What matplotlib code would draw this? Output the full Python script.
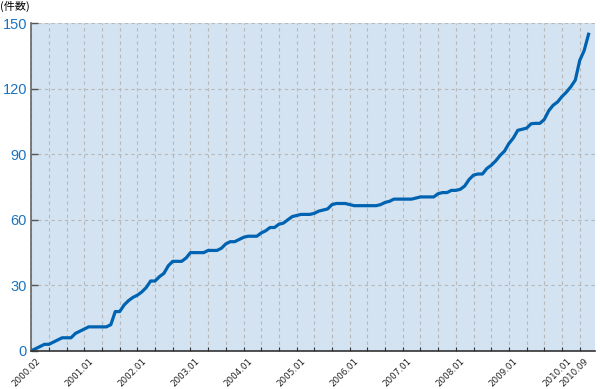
import matplotlib
matplotlib.use("Agg")
import matplotlib.pyplot as plt

# cumulative count per month, month 0 = start of the axis (2000.02)
months = list(range(127))
counts = [
    0, 1, 2, 3, 3, 4, 5, 6, 6, 6,
    8, 9, 10, 11, 11, 11, 11, 11, 12, 18,
    18, 21, 23, 24.5, 25.5, 27, 29, 32, 32, 34,
    35.5, 39, 41, 41, 41, 42.5, 45, 45, 45, 45,
    46, 46, 46, 47, 49, 50, 50, 51, 52, 52.5,
    52.5, 52.5, 54, 55, 56.5, 56.5, 58, 58.5, 60, 61.5,
    62, 62.5, 62.5, 62.5, 63, 64, 64.5, 65, 67, 67.5,
    67.5, 67.5, 67, 66.5, 66.5, 66.5, 66.5, 66.5, 66.5, 67,
    68, 68.5, 69.5, 69.5, 69.5, 69.5, 69.5, 70, 70.5, 70.5,
    70.5, 70.5, 72, 72.5, 72.5, 73.5, 73.5, 74, 75.5, 78.5,
    80.5, 81, 81, 83.5, 85, 87, 89.5, 91.5, 95, 97.5,
    101, 101.5, 102, 104, 104.2, 104.2, 106, 110, 112.5, 114,
    116.5, 118.5, 121, 124, 133, 137.5, 145,
]

tick_pos = list(range(0, 125, 4))
label_pos = [0, 12, 24, 36, 48, 60, 72, 84, 96, 108, 120, 124]
label_txt = ['2000.02', '2001.01', '2002.01', '2003.01', '2004.01', '2005.01',
             '2006.01', '2007.01', '2008.01', '2009.01', '2010.01', '2010.09']
y_ticks = [0, 30, 60, 90, 120, 150]

fig = plt.figure(figsize=(6, 3.89), dpi=100)
ax = fig.add_axes([0.052, 0.098, 0.940, 0.842])
ax.set_facecolor('#d3e3f1')

ax.plot(months, counts, color='#0063b1', linewidth=2.3, solid_joinstyle='round')

ax.set_xlim(0, 127.5)
ax.set_ylim(0, 150)

ax.set_xticks(tick_pos)
ax.set_xticklabels([])
for p, t in zip(label_pos, label_txt):
    ax.text(p + 1.0, -2.5, t, rotation=45, ha='right', va='top', fontsize=6.3,
            family=['DejaVu Sans Condensed', 'DejaVu Sans'], rotation_mode='anchor',
            color='#222222')

ax.set_yticks(y_ticks)
ax.set_yticklabels([str(v) for v in y_ticks], fontsize=10.5, color='#1a73c0',
                   family=['Liberation Sans', 'DejaVu Sans'])

ax.tick_params(axis='x', direction='in', length=3, width=0.8, color='#333333')
ax.tick_params(axis='y', direction='in', length=5, width=1, color='#555555', pad=3)

ax.grid(True, linestyle=(0, (3, 3)), color='#b8b8b8', linewidth=0.8)
ax.set_axisbelow(True)

for s in ['top', 'right']:
    ax.spines[s].set_visible(False)
ax.spines['left'].set_color('#666666')
ax.spines['left'].set_linewidth(1.2)
ax.spines['bottom'].set_color('#333333')
ax.spines['bottom'].set_linewidth(1.2)

fig.text(0.0, 0.998, '(件数)', fontsize=8, va='top', ha='left',
         family=['Noto Sans CJK JP', 'DejaVu Sans'])

fig.savefig('out.png', dpi=100)
